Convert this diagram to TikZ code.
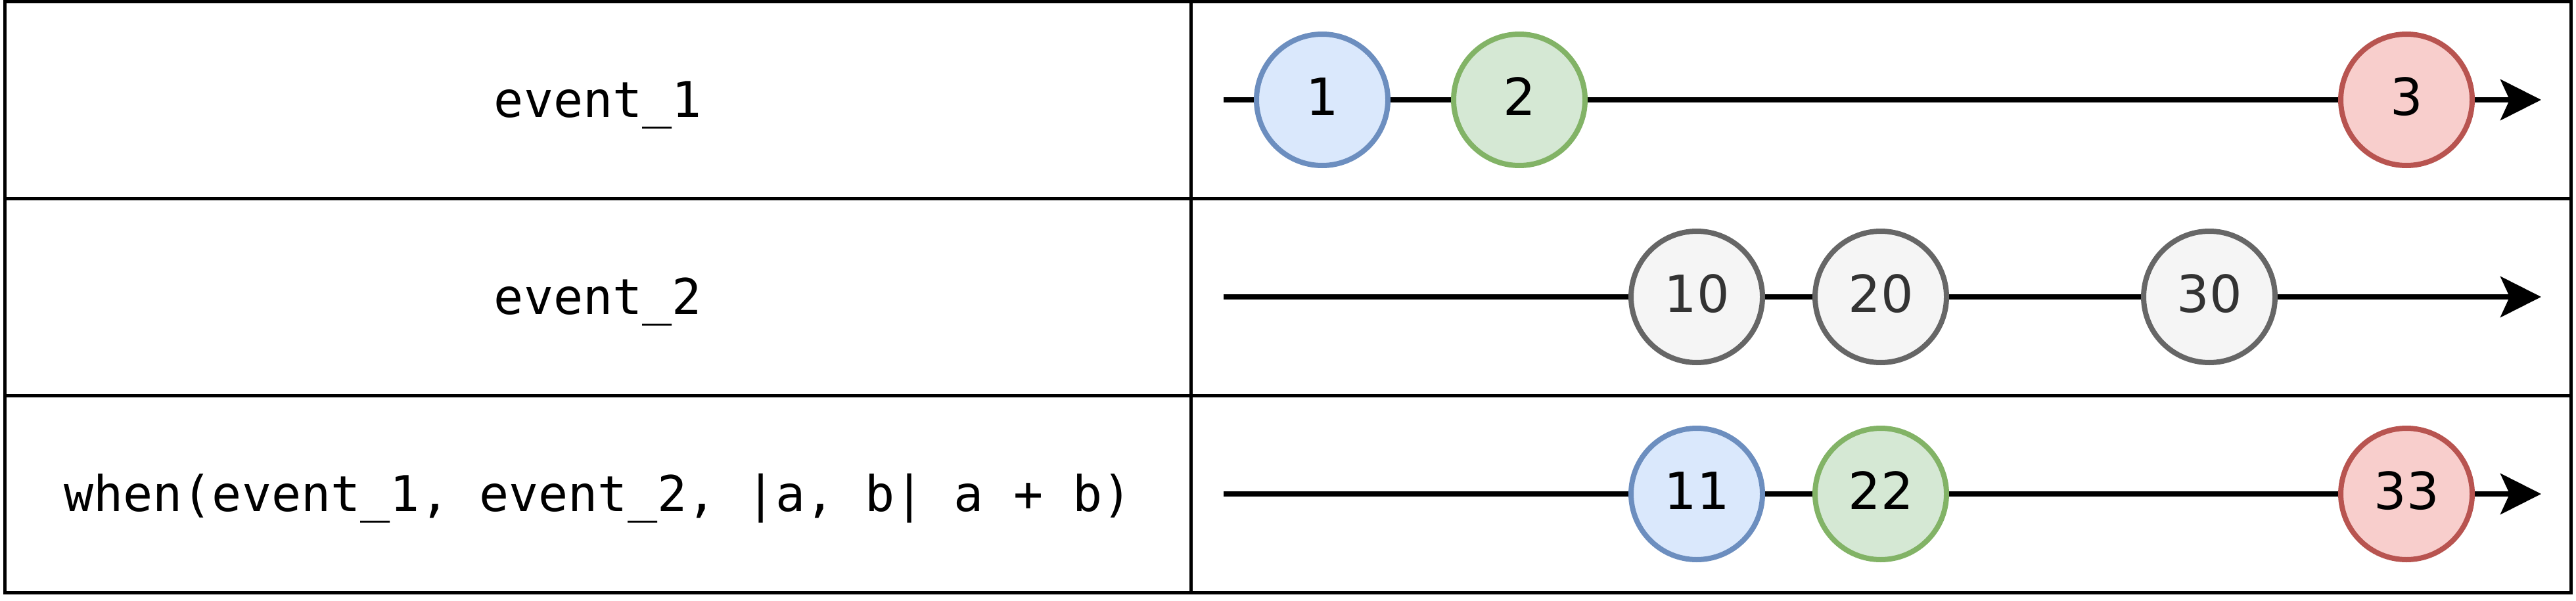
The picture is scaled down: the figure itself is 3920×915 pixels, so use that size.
\documentclass[tikz,border=0pt]{standalone}
\usepackage{fontspec}
\setmainfont{DejaVu Sans}
\setmonofont{DejaVu Sans Mono}
\usetikzlibrary{arrows.meta}

\definecolor{bluefill}{HTML}{DAE8FC}
\definecolor{bluedraw}{HTML}{6C8EBF}
\definecolor{greenfill}{HTML}{D5E8D4}
\definecolor{greendraw}{HTML}{82B366}
\definecolor{redfill}{HTML}{F8CECC}
\definecolor{reddraw}{HTML}{B85450}
\definecolor{grayfill}{HTML}{F5F5F5}
\definecolor{graydraw}{HTML}{666666}
\definecolor{graytext}{HTML}{333333}

\tikzset{
  grid line/.style={black, line width=5pt},
  label text/.style={anchor=base, font=\fontsize{75}{90}\selectfont\ttfamily},
  marble/.style={circle, minimum size=200pt, inner sep=0pt, line width=8pt,
    text depth=10pt, font=\fontsize{78}{90}\selectfont},
  blue marble/.style={marble, draw=bluedraw, fill=bluefill},
  green marble/.style={marble, draw=greendraw, fill=greenfill},
  red marble/.style={marble, draw=reddraw, fill=redfill},
  gray marble/.style={marble, draw=graydraw, fill=grayfill, text=graytext},
  timeline/.style={black, line width=8pt,
    -{Stealth[length=62pt,width=62pt,inset=14pt]}}
}

\begin{document}
\begin{tikzpicture}[x=1pt,y=-1pt]
\useasboundingbox (0,0) rectangle (3920,915);

% table
\draw[grid line] (7.5,2.5) rectangle (3912.5,902);
\draw[grid line] (7.5,302) -- (3912.5,302);
\draw[grid line] (7.5,602) -- (3912.5,602);
\draw[grid line] (1812,2.5) -- (1812,902);

% left column (baselines)
\node[label text] (L1) at (910,178) {event\_1};
\node[label text] (L2) at (910,478) {event\_2};
\node[label text] (L3) at (910,778) {when(event\_1, event\_2, |a, b| a + b)};

% row 1
\coordinate (s1) at (1862,152);
\coordinate (e1) at (3867,152);
\node[blue marble] (a1) at (2012,152) {1};
\node[green marble] (a2) at (2312,152) {2};
\node[red marble] (a3) at (3662,152) {3};
\draw[timeline] (s1) -- (a1) -- (a2) -- (a3) -- (e1);

% row 2
\coordinate (s2) at (1862,452);
\coordinate (e2) at (3867,452);
\node[gray marble] (b1) at (2582,452) {10};
\node[gray marble] (b2) at (2862,452) {20};
\node[gray marble] (b3) at (3362,452) {30};
\draw[timeline] (s2) -- (b1) -- (b2) -- (b3) -- (e2);

% row 3
\coordinate (s3) at (1862,752);
\coordinate (e3) at (3867,752);
\node[blue marble] (c1) at (2582,752) {11};
\node[green marble] (c2) at (2862,752) {22};
\node[red marble] (c3) at (3662,752) {33};
\draw[timeline] (s3) -- (c1) -- (c2) -- (c3) -- (e3);

\end{tikzpicture}
\end{document}
